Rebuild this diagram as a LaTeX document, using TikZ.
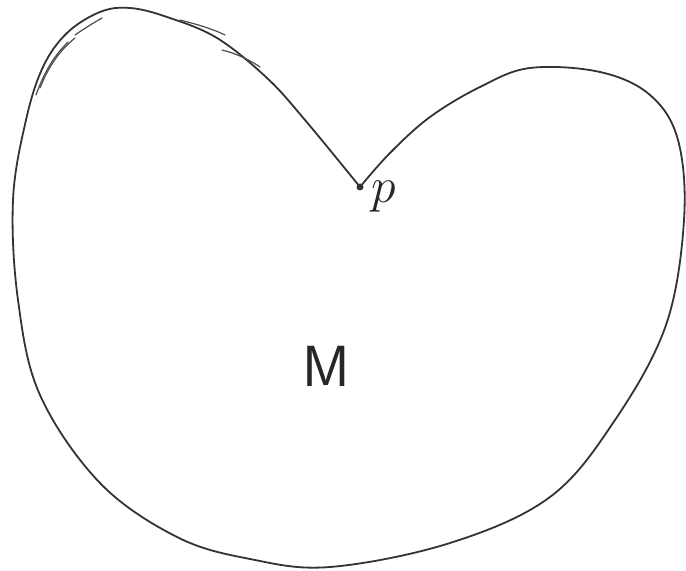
\documentclass[tikz,border=0pt]{standalone}
\begin{document}
\begin{tikzpicture}[x=0.5pt,y=-0.5pt,
  outline/.style={draw=black!80, line width=0.9pt, line join=round, line cap=round},
  sketch/.style={draw=black!70, line width=0.6pt, line cap=round},
  lbl/.style={inner sep=0pt, text=black!85}]
\useasboundingbox (0,0) rectangle (686,571);
\coordinate (cusp) at (360,187);
\draw[outline] plot[smooth, tension=0.6] coordinates {
 (360,187) (305,120) (267,78) (217,38) (167,17) (130,8) (100,12) (67,33)
 (43,67) (26,120) (13,200) (18,300) (40,395) (100,483) (177,537) (250,559)
 (330,567) (450,543) (550,497) (615,420) (666,325) (684,220) (678,140)
 (650,95) (600,72) (530,68) (480,87) (430,117) (390,153) (360,187)};
% sketchy overstrokes on the upper left lobe
\draw[sketch] (36,95) .. controls (45,70) and (55,55) .. (68,42);
\draw[sketch] (40,88) .. controls (48,68) and (58,52) .. (75,38);
\draw[sketch] (75,35) .. controls (85,28) and (95,22) .. (102,18);
\draw[sketch] (222,50) .. controls (235,53) and (250,60) .. (260,67);
\draw[sketch] (180,20) .. controls (200,25) and (215,30) .. (225,35);
\fill[black!80] (cusp) circle (3.5);
\node[lbl, font=\fontsize{26}{26}\selectfont, anchor=north west] (p) at (371,181) {$p$};
\node[lbl, font=\fontsize{29}{29}\sffamily\selectfont] (M) at (326,366) {M};
\end{tikzpicture}
\end{document}
